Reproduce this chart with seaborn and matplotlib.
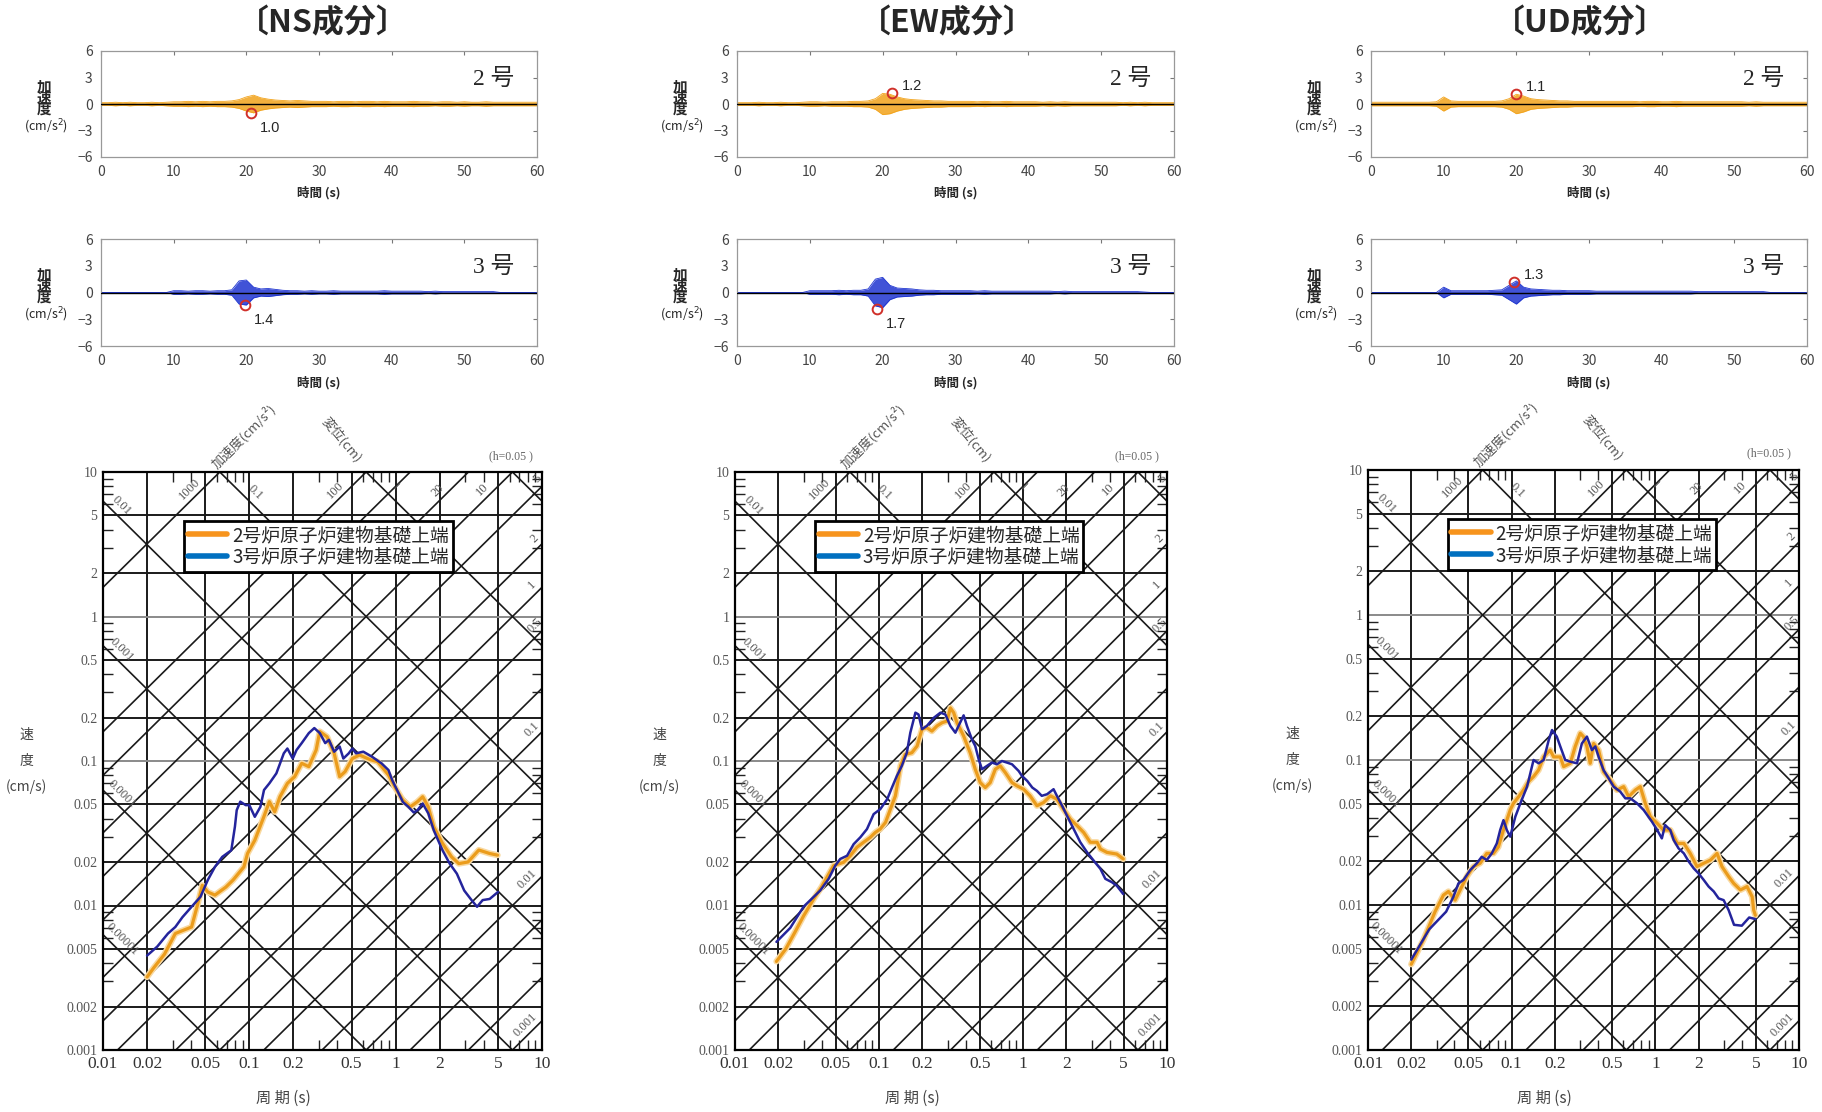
import numpy as np
import pandas as pd
import matplotlib
matplotlib.use("Agg")
import matplotlib.pyplot as plt
import matplotlib.patheffects as pe
from matplotlib.lines import Line2D
from matplotlib.ticker import FixedLocator, FixedFormatter, NullFormatter
import seaborn as sns

# ---------------- time histories (envelope read per second, cm/s2) ----------------
sec = list(range(61))
ns2_env = [0.15, 0.15, 0.2, 0.15, 0.2, 0.15, 0.15, 0.2, 0.15, 0.2,
           0.25, 0.25, 0.3, 0.25, 0.3, 0.25, 0.3, 0.3, 0.35, 0.5,
           0.8, 1.0, 0.7, 0.55, 0.45, 0.4, 0.35, 0.4, 0.35, 0.3,
           0.3, 0.3, 0.25, 0.3, 0.3, 0.25, 0.3, 0.3, 0.25, 0.3,
           0.25, 0.25, 0.25, 0.3, 0.25, 0.25, 0.2, 0.25, 0.25, 0.2,
           0.25, 0.2, 0.2, 0.25, 0.2, 0.2, 0.2, 0.2, 0.2, 0.2, 0.2]
ns3_env = [0, 0, 0, 0, 0, 0, 0, 0, 0, 0,
           0.2, 0.2, 0.15, 0.2, 0.2, 0.15, 0.2, 0.2, 0.3, 1.3,
           1.4, 0.6, 0.4, 0.45, 0.35, 0.25, 0.2, 0.2, 0.15, 0.2,
           0.15, 0.15, 0.2, 0.15, 0.15, 0.15, 0.15, 0.15, 0.15, 0.2,
           0.15, 0.15, 0.15, 0.15, 0.15, 0.1, 0.15, 0.1, 0.1, 0.1,
           0.1, 0.1, 0.1, 0.1, 0.1, 0, 0, 0, 0, 0, 0]
ew2_env = [0.15, 0.15, 0.15, 0.2, 0.15, 0.15, 0.2, 0.15, 0.15, 0.2,
           0.25, 0.25, 0.2, 0.25, 0.25, 0.25, 0.3, 0.3, 0.35, 0.6,
           1.2, 1.1, 0.8, 0.6, 0.5, 0.45, 0.4, 0.35, 0.35, 0.3,
           0.3, 0.3, 0.3, 0.25, 0.3, 0.25, 0.25, 0.3, 0.25, 0.25,
           0.25, 0.25, 0.2, 0.25, 0.2, 0.25, 0.2, 0.2, 0.2, 0.2,
           0.2, 0.2, 0.2, 0.15, 0.2, 0.15, 0.2, 0.15, 0.15, 0.15, 0.15]
ew3_env = [0, 0, 0, 0, 0, 0, 0, 0, 0, 0,
           0.2, 0.2, 0.2, 0.2, 0.25, 0.2, 0.25, 0.25, 0.4, 1.5,
           1.7, 0.8, 0.5, 0.45, 0.4, 0.3, 0.25, 0.25, 0.2, 0.2,
           0.2, 0.2, 0.2, 0.15, 0.2, 0.15, 0.15, 0.15, 0.15, 0.15,
           0.15, 0.15, 0.15, 0.15, 0.1, 0.15, 0.1, 0.1, 0.1, 0.1,
           0.1, 0.1, 0.1, 0.1, 0.1, 0.1, 0.05, 0, 0, 0, 0]
ud2_env = [0.2, 0.2, 0.2, 0.2, 0.2, 0.2, 0.2, 0.2, 0.2, 0.25,
           0.8, 0.35, 0.3, 0.3, 0.3, 0.3, 0.3, 0.3, 0.35, 0.6,
           1.1, 0.9, 0.6, 0.5, 0.45, 0.4, 0.35, 0.35, 0.3, 0.3,
           0.3, 0.3, 0.3, 0.3, 0.3, 0.3, 0.3, 0.25, 0.3, 0.3,
           0.25, 0.25, 0.3, 0.25, 0.25, 0.25, 0.25, 0.25, 0.25, 0.25,
           0.25, 0.25, 0.2, 0.25, 0.2, 0.2, 0.2, 0.2, 0.2, 0.2, 0.2]
ud3_env = [0, 0, 0, 0, 0, 0, 0, 0, 0, 0,
           0.6, 0.2, 0.2, 0.2, 0.2, 0.2, 0.2, 0.25, 0.3, 0.8,
           1.3, 0.6, 0.4, 0.35, 0.3, 0.25, 0.25, 0.2, 0.2, 0.2,
           0.2, 0.15, 0.15, 0.15, 0.15, 0.15, 0.15, 0.15, 0.15, 0.15,
           0.15, 0.15, 0.15, 0.15, 0.15, 0.1, 0.1, 0.1, 0.1, 0.1,
           0.1, 0.1, 0.1, 0.1, 0.1, 0, 0, 0, 0, 0, 0]

# peak markers: time (s), value (cm/s2), label
peak_time = [20.6, 19.8, 21.3, 19.2, 19.95, 19.7]
peak_value = [-1.0, -1.45, 1.25, -1.8, 1.15, 1.2]
peak_label = ["1.0", "1.4", "1.2", "1.7", "1.1", "1.3"]

# ---------------- velocity response spectra (h=0.05) ----------------
ns_T2 = [0.020, 0.0222, 0.0263, 0.0312, 0.0349, 0.0403, 0.0439, 0.0477, 0.052, 0.0582, 0.0691, 0.0774,
         0.0918, 0.0972, 0.109, 0.1256, 0.137, 0.149, 0.162, 0.182, 0.204, 0.228, 0.255, 0.286, 0.303,
         0.340, 0.380, 0.414, 0.451, 0.506, 0.566, 0.672, 0.753, 0.820, 0.893, 1.0, 1.12, 1.26, 1.41,
         1.53, 1.67, 1.82, 2.09, 2.41, 2.70, 3.12, 3.70, 4.39, 4.97]
ns_V2 = [0.0032, 0.0037, 0.0046, 0.0064, 0.0067, 0.0071, 0.0098, 0.0138, 0.0124, 0.0118, 0.0134, 0.0150,
         0.0185, 0.0229, 0.0283, 0.0411, 0.0523, 0.0445, 0.0566, 0.0700, 0.0779, 0.0964, 0.0914, 0.119, 0.160,
         0.147, 0.113, 0.0779, 0.0844, 0.104, 0.110, 0.102, 0.0989, 0.0889, 0.0800, 0.0646, 0.0536, 0.0482, 0.0523,
         0.0566, 0.0482, 0.0351, 0.0269, 0.0217, 0.0195, 0.0200, 0.0242, 0.0229, 0.0223]
ns_T3 = [0.020, 0.0235, 0.0278, 0.0312, 0.0349, 0.0403, 0.0464, 0.052, 0.0582, 0.0653, 0.0753, 0.0797,
         0.0820, 0.0867, 0.0945, 0.100, 0.109, 0.119, 0.126, 0.137, 0.153, 0.172, 0.182, 0.198, 0.210,
         0.228, 0.255, 0.278, 0.303, 0.330, 0.350, 0.380, 0.414, 0.439, 0.478, 0.506, 0.536, 0.601, 0.69,
         0.80, 0.893, 0.947, 1.03, 1.12, 1.22, 1.33, 1.41, 1.53, 1.67, 1.82, 2.09, 2.34, 2.62, 2.94, 3.30,
         3.60, 3.93, 4.39, 5.0]
ns_V3 = [0.0045, 0.0052, 0.0064, 0.0071, 0.0083, 0.0098, 0.0115, 0.0150, 0.0185, 0.0217, 0.0241, 0.0351,
         0.0457, 0.0523, 0.0495, 0.0495, 0.0411, 0.0482, 0.0630, 0.0700, 0.0821, 0.113, 0.122, 0.104, 0.119,
         0.133, 0.156, 0.169, 0.156, 0.133, 0.140, 0.116, 0.126, 0.104, 0.113, 0.122, 0.113, 0.116, 0.107,
         0.0964, 0.0866, 0.0738, 0.062, 0.052, 0.0482, 0.044, 0.0457, 0.0508, 0.0434, 0.0332, 0.0241, 0.0195,
         0.0166, 0.0127, 0.0109, 0.0098, 0.0109, 0.0111, 0.0124]

ew_T2 = [0.0194, 0.0225, 0.026, 0.030, 0.035, 0.040, 0.0484, 0.0568, 0.0632, 0.0703, 0.0782, 0.087,
         0.0942, 0.102, 0.111, 0.120, 0.130, 0.141, 0.152, 0.169, 0.184, 0.199, 0.215, 0.233, 0.253,
         0.274, 0.297, 0.313, 0.330, 0.348, 0.367, 0.387, 0.408, 0.430, 0.466, 0.505, 0.547, 0.592, 0.642,
         0.695, 0.754, 0.839, 0.908, 1.01, 1.12, 1.25, 1.39, 1.55, 1.72, 1.91, 2.13, 2.38, 2.64, 2.93,
         3.27, 3.45, 3.83, 4.48, 4.97]
ew_V2 = [0.0041, 0.0050, 0.0065, 0.0085, 0.0110, 0.0135, 0.0189, 0.0199, 0.0221, 0.0253, 0.0274, 0.0296,
         0.0320, 0.0338, 0.0376, 0.0464, 0.0574, 0.0924, 0.111, 0.114, 0.127, 0.166, 0.170, 0.161, 0.175,
         0.184, 0.189, 0.233, 0.216, 0.184, 0.166, 0.149, 0.130, 0.114, 0.0877, 0.0709, 0.0655, 0.0709, 0.0877,
         0.0924, 0.0831, 0.0709, 0.0673, 0.0638, 0.0574, 0.0490, 0.0516, 0.0574, 0.0544, 0.0464, 0.0396, 0.0356,
         0.0320, 0.0274, 0.0274, 0.0246, 0.0233, 0.0227, 0.0210]
ew_T3 = [0.0194, 0.0242, 0.0299, 0.0391, 0.0447, 0.0497, 0.0538, 0.060, 0.0667, 0.0741, 0.0825, 0.0918,
         0.102, 0.114, 0.123, 0.133, 0.144, 0.156, 0.165, 0.179, 0.188, 0.199, 0.215, 0.240, 0.267,
         0.289, 0.313, 0.339, 0.387, 0.408, 0.442, 0.466, 0.492, 0.519, 0.561, 0.608, 0.659, 0.714, 0.774,
         0.839, 0.933, 0.984, 1.07, 1.16, 1.25, 1.35, 1.47, 1.63, 1.72, 1.87, 2.02, 2.25, 2.50, 2.79,
         3.09, 3.45, 3.73, 4.14, 4.48, 4.97]
ew_V3 = [0.0056, 0.0070, 0.0098, 0.0127, 0.0153, 0.0189, 0.0210, 0.0221, 0.0266, 0.0296, 0.0338, 0.0429,
         0.0464, 0.0544, 0.0655, 0.0788, 0.0924, 0.114, 0.157, 0.216, 0.210, 0.166, 0.175, 0.199, 0.216,
         0.210, 0.175, 0.157, 0.207, 0.175, 0.141, 0.127, 0.103, 0.0877, 0.0924, 0.0975, 0.0949, 0.100, 0.0975,
         0.0949, 0.0853, 0.0788, 0.0728, 0.0655, 0.0621, 0.0574, 0.0589, 0.0638, 0.0574, 0.0490, 0.0418, 0.0338,
         0.0274, 0.0233, 0.0205, 0.0179, 0.0153, 0.0145, 0.0137, 0.0120]

ud_T2 = [0.020, 0.0244, 0.0293, 0.0335, 0.0363, 0.0404, 0.0438, 0.0487, 0.0542, 0.0603, 0.0671, 0.0747,
         0.0809, 0.0877, 0.0977, 0.103, 0.112, 0.121, 0.131, 0.142, 0.154, 0.167, 0.185, 0.196, 0.218,
         0.230, 0.256, 0.277, 0.300, 0.316, 0.334, 0.352, 0.372, 0.403, 0.436, 0.486, 0.541, 0.602, 0.652,
         0.726, 0.786, 0.851, 0.923, 1.03, 1.14, 1.27, 1.42, 1.58, 1.75, 1.95, 2.17, 2.42, 2.69, 2.91,
         3.24, 3.51, 3.91, 4.35, 4.72, 4.84, 4.97]
ud_V2 = [0.0039, 0.0058, 0.0090, 0.0117, 0.0124, 0.0108, 0.0127, 0.0157, 0.0184, 0.0194, 0.0227, 0.0227,
         0.0252, 0.0329, 0.0452, 0.0503, 0.0559, 0.0621, 0.0709, 0.0768, 0.0853, 0.105, 0.117, 0.105, 0.105,
         0.0900, 0.0949, 0.124, 0.153, 0.145, 0.124, 0.0949, 0.130, 0.117, 0.0831, 0.0728, 0.0621, 0.0655, 0.0559,
         0.0621, 0.0655, 0.0503, 0.0406, 0.0366, 0.0329, 0.0329, 0.0266, 0.0266, 0.0227, 0.0184, 0.0194, 0.0204,
         0.0227, 0.0184, 0.0157, 0.0141, 0.0127, 0.0134, 0.0114, 0.0092, 0.0085]
ud_T3 = [0.020, 0.0267, 0.035, 0.0393, 0.0426, 0.0462, 0.0514, 0.0572, 0.0619, 0.0671, 0.0727, 0.0788,
         0.0832, 0.0877, 0.0925, 0.0977, 0.106, 0.115, 0.128, 0.142, 0.154, 0.167, 0.181, 0.191, 0.206,
         0.218, 0.236, 0.256, 0.285, 0.308, 0.334, 0.362, 0.382, 0.403, 0.436, 0.473, 0.512, 0.570, 0.618,
         0.670, 0.745, 0.829, 0.948, 1.03, 1.11, 1.17, 1.27, 1.34, 1.45, 1.58, 1.71, 1.85, 2.00, 2.17,
         2.35, 2.55, 2.76, 2.99, 3.24, 3.53, 4.0, 4.5, 4.97]
ud_V3 = [0.0042, 0.0068, 0.0090, 0.0114, 0.0141, 0.0149, 0.0174, 0.0194, 0.0215, 0.0204, 0.0227, 0.0266,
         0.0329, 0.0385, 0.0329, 0.0296, 0.0406, 0.0503, 0.0655, 0.100, 0.0949, 0.100, 0.137, 0.161, 0.145,
         0.124, 0.100, 0.0974, 0.0949, 0.130, 0.145, 0.117, 0.124, 0.105, 0.0853, 0.0748, 0.0655, 0.0605, 0.0544,
         0.0544, 0.0503, 0.0452, 0.0375, 0.0329, 0.0288, 0.0356, 0.0329, 0.0281, 0.0246, 0.0227, 0.0199, 0.0179,
         0.0165, 0.0149, 0.0134, 0.0124, 0.0111, 0.0108, 0.0092, 0.0073, 0.0072, 0.0082, 0.0080]

# tripartite grid values
period_grid = [0.02, 0.05, 0.1, 0.2, 0.5, 1, 2, 5]
vel_grid = [5, 2, 1, 0.5, 0.2, 0.1, 0.05, 0.02, 0.01, 0.005, 0.002]
acc_lines = [1000, 100, 50, 20, 10, 5, 2, 1, 0.5, 0.2, 0.1, 0.05, 0.02, 0.01, 0.005, 0.002, 0.001]
disp_lines = [10, 1, 0.1, 0.01, 0.001, 0.0001, 0.00001]
acc_label_text = ["1000", "100", "20", "10", "5", "2", "1", "0.5", "0.1", "0.01", "0.001"]
acc_label_T = [0.039, 0.386, 1.93, 3.9, 9.3, 8.9, 8.55, 9.0, 8.55, 7.9, 7.7]
disp_label_text = ["0.01", "0.001", "0.0001", "0.00001", "0.1", "1"]
disp_label_T = [0.0134, 0.0134, 0.0134, 0.0134, 0.109, 1.0]
period_ticks = [0.01, 0.02, 0.05, 0.1, 0.2, 0.5, 1, 2, 5, 10]
period_labels = ["0.01", "0.02", "0.05", "0.1", "0.2", "0.5", "1", "2", "5", "10"]
vel_ticks = [10, 5, 2, 1, 0.5, 0.2, 0.1, 0.05, 0.02, 0.01, 0.005, 0.002, 0.001]
vel_labels = ["10", "5", "2", "1", "0.5", "0.2", "0.1", "0.05", "0.02", "0.01", "0.005", "0.002", "0.001"]

titles = ["〔NS成分〕", "〔EW成分〕", "〔UD成分〕"]
legend_labels = ["2号炉原子炉建物基礎上端", "3号炉原子炉建物基礎上端"]

# ---------------- style ----------------
sns.set_theme(style="white")
plt.rcParams['font.family'] = ['Noto Sans CJK JP', 'DejaVu Sans']
SERIF = ['Liberation Serif', 'Noto Sans CJK JP']

ORANGE_T = '#f2a31b'
BLUE_T = '#1f35d0'
ORANGE_S = '#eb9c1c'
NAVY_S = '#24249c'

W, H = 1822, 1112
fig = plt.figure(figsize=(W / 100, H / 100), dpi=100, facecolor='white')


def px_axes(l, t, r, b):
    return fig.add_axes([l / W, 1 - b / H, (r - l) / W, (b - t) / H])


def wave_panel(ax, env, color, k, unit):
    lower = [-v for v in env]
    ax.fill_between(sec, lower, env, color=color, lw=0, alpha=0.85, zorder=2)
    sns.lineplot(x=sec, y=env, color=color, linewidth=0.6, estimator=None, ax=ax, zorder=2)
    sns.lineplot(x=sec, y=lower, color=color, linewidth=0.6, estimator=None, ax=ax, zorder=2)
    ax.axhline(0, color='black', lw=1.0, zorder=3)
    ax.set_xlim(0, 60)
    ax.set_ylim(-6, 6)
    ax.set_xticks([0, 10, 20, 30, 40, 50, 60])
    ax.set_yticks([-6, -3, 0, 3, 6])
    ax.tick_params(direction='in', length=3, width=0.8, color='#777', labelsize=10,
                   labelcolor='#444', top=True, right=True, pad=6)
    for s in ax.spines.values():
        s.set_color('#999')
        s.set_linewidth(0.9)
    pa = peak_value[k]
    ax.plot([peak_time[k]], [pa], 'o', mfc='none', mec='#d0302a', ms=7, mew=1.4, zorder=5)
    off = (9, -15) if pa < 0 else (10, 7)
    ax.annotate(peak_label[k], (peak_time[k], pa), xytext=off, textcoords='offset pixels',
                fontsize=10.5, ha='left', va='center', family=['Liberation Sans'])
    ax.text(0.90, 0.736, unit, transform=ax.transAxes, fontsize=17, family=SERIF,
            ha='center', va='center')
    ax.text(0.5, -0.34, '時間 (s)', transform=ax.transAxes, ha='center', va='center',
            fontsize=9, fontweight='bold')
    ax.text(-0.131, 0.56, '加\n速\n度', transform=ax.transAxes, ha='center', va='center',
            fontsize=10.5, fontweight='bold', linespacing=0.62)
    ax.text(-0.126, 0.29, '(cm/s$^2$)', transform=ax.transAxes, ha='center', va='center',
            fontsize=9)


def spectrum(ax, T2, V2, T3, V3):
    ax.set_xscale('log')
    ax.set_yscale('log')
    ax.set_xlim(0.01, 10)
    ax.set_ylim(0.001, 10)
    for x in period_grid:
        ax.axvline(x, color='#1a1a1a', lw=1.4, zorder=1)
    for y in vel_grid:
        c = '#8a8a8a' if y in (1, 0.1) else '#1a1a1a'
        ax.axhline(y, color=c, lw=1.4, zorder=1)
    tt = np.array([0.01, 10.0])
    for a in acc_lines:
        ax.plot(tt, a * tt / (2 * np.pi), color='#1a1a1a', lw=1.2, zorder=1)
    for d in disp_lines:
        ax.plot(tt, 2 * np.pi * d / tt, color='#1a1a1a', lw=1.2, zorder=1)
    for txt, t in zip(acc_label_text, acc_label_T):
        v = float(txt) * t / (2 * np.pi) * 1.22
        ax.text(t, v, txt, rotation=45, ha='center', va='center', fontsize=9,
                color='#555', family=SERIF, zorder=2)
    for txt, t in zip(disp_label_text, disp_label_T):
        v = 2 * np.pi * float(txt) / t * 1.25
        ax.text(t, v, txt, rotation=-45, ha='center', va='center', fontsize=9,
                color='#555', family=SERIF, zorder=2)

    sns.lineplot(x=T2, y=V2, color=ORANGE_S, linewidth=2.3, sort=False, estimator=None,
                 ax=ax, zorder=5)
    ax.lines[-1].set_path_effects([pe.Stroke(linewidth=4.5, foreground='#f9d9a0'), pe.Normal()])
    sns.lineplot(x=T3, y=V3, color=NAVY_S, linewidth=1.8, sort=False, estimator=None,
                 ax=ax, zorder=6)

    ax.xaxis.set_major_locator(FixedLocator(period_ticks))
    ax.xaxis.set_major_formatter(FixedFormatter(period_labels))
    ax.yaxis.set_major_locator(FixedLocator(vel_ticks))
    ax.yaxis.set_major_formatter(FixedFormatter(vel_labels))
    ax.xaxis.set_minor_locator(FixedLocator([m * 10.0 ** e for e in range(-2, 1) for m in (3, 4, 6, 7, 8, 9)]))
    ax.yaxis.set_minor_locator(FixedLocator([m * 10.0 ** e for e in range(-3, 1) for m in (3, 4, 6, 7, 8, 9)]))
    ax.xaxis.set_minor_formatter(NullFormatter())
    ax.yaxis.set_minor_formatter(NullFormatter())
    ax.tick_params(which='major', length=0)
    ax.tick_params(axis='x', which='major', pad=4, labelsize=12.5, labelcolor='#333')
    ax.tick_params(axis='y', which='major', pad=4, labelsize=10, labelcolor='#555')
    ax.tick_params(which='minor', direction='in', length=7, width=1.0, color='#222',
                   top=True, right=True, bottom=True, left=True)
    for lab in ax.get_xticklabels() + ax.get_yticklabels():
        lab.set_family(SERIF)
    for s in ax.spines.values():
        s.set_color('black')
        s.set_linewidth(1.6)
    ax.set_xlabel('')
    ax.set_ylabel('')

    handles = [Line2D([], [], color='#f7941d', lw=4), Line2D([], [], color='#0070c0', lw=4)]
    leg = ax.legend(handles, legend_labels, loc='upper left', bbox_to_anchor=(0.185, 0.915),
                    fontsize=13.5, frameon=True, fancybox=False, edgecolor='black',
                    framealpha=1, borderpad=0.2, labelspacing=0.05, handlelength=2.1,
                    handletextpad=0.25, borderaxespad=0)
    leg.get_frame().set_linewidth(2)
    leg.set_zorder(10)

    ax.text(0.32, 1.062, '加速度(cm/s²)', transform=ax.transAxes, rotation=45,
            ha='center', va='center', fontsize=9.5, color='#555')
    ax.text(0.545, 1.056, '変位(cm)', transform=ax.transAxes, rotation=-50,
            ha='center', va='center', fontsize=9.5, color='#555')
    ax.text(0.93, 1.028, '(h=0.05 )', transform=ax.transAxes, ha='center', va='center',
            fontsize=8.5, color='#666', family=SERIF)
    ax.text(0.41, -0.083, '周 期 (s)', transform=ax.transAxes, ha='center', va='center',
            fontsize=11, color='#444')
    ax.text(-0.175, 0.5, '速\n\n度\n\n(cm/s)', transform=ax.transAxes, ha='center', va='center',
            fontsize=10, color='#444', linespacing=0.9)


# panel geometry in pixels: (left, right) per component
wave_x = [(101, 537), (737, 1174), (1371, 1807)]
spec_box = [(103, 472, 542, 1050), (735, 472, 1167, 1050), (1368, 470, 1799, 1050)]
title_x = [323, 947, 1580]
envs = [(ns2_env, ns3_env), (ew2_env, ew3_env), (ud2_env, ud3_env)]
spectra = [(ns_T2, ns_V2, ns_T3, ns_V3), (ew_T2, ew_V2, ew_T3, ew_V3), (ud_T2, ud_V2, ud_T3, ud_V3)]

for i in range(3):
    l, r = wave_x[i]
    ax2 = px_axes(l, 51, r, 157)
    wave_panel(ax2, envs[i][0], ORANGE_T, 2 * i, '2 号')
    ax3 = px_axes(l, 239, r, 346)
    wave_panel(ax3, envs[i][1], BLUE_T, 2 * i + 1, '3 号')
    axs = px_axes(*spec_box[i])
    spectrum(axs, *spectra[i])
    fig.text(title_x[i] / W, 1 - 23 / H, titles[i], ha='center', va='center',
             fontsize=23, fontweight='bold')

fig.savefig('out.png', dpi=100, facecolor='white')
